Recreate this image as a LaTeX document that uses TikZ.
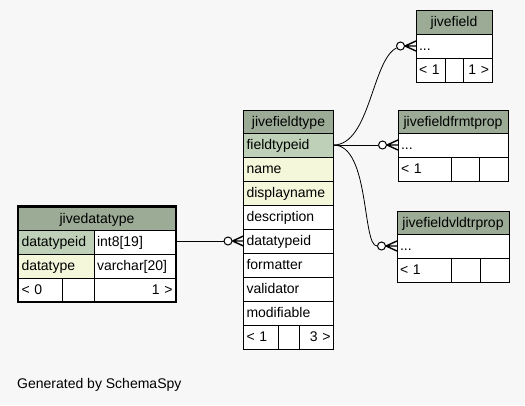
\documentclass[tikz,border=0pt]{standalone}
\usepackage{fontspec}
\setmainfont{Liberation Sans}
\usetikzlibrary{calc, fit, positioning}
\definecolor{bggray}{HTML}{F7F7F7}
\definecolor{headgreen}{HTML}{9BAB96}
\definecolor{keygreen}{HTML}{BED1B8}
\definecolor{idxyellow}{HTML}{F4F7DA}
\tikzset{
    cell/.style={draw, fill=white, line width=0.8pt, anchor=north west, outer sep=0pt,
        inner xsep=3pt, inner ysep=0pt, minimum height=24pt, text width=#1,
        text height=10.5pt, text depth=1.5pt, align=left, font=\fontsize{14}{16}\selectfont},
    headcell/.style={cell=#1, fill=headgreen, align=center, minimum height=23pt},
    keycell/.style={cell=#1, fill=keygreen},
    idxcell/.style={cell=#1, fill=idxyellow},
    odot/.style={draw, fill=white, circle, line width=1pt, minimum size=8pt, inner sep=0pt},
    link/.style={line width=0.8pt}
}
\newcommand{\crowfoot}[2]{%
    \draw[line width=1.4pt] (#1.east) -- ($(#2.west)+(0,-5)$)
        (#1.east) -- (#2.west) (#1.east) -- ($(#2.west)+(0,5)$);}

\begin{document}
\begin{tikzpicture}[x=1pt, y=-1pt]

\path[use as bounding box, fill=bggray] (0,0) rectangle (525,405);

% jivedatatype
\node[headcell=151pt] (dt-head) at (18.5,207) {jivedatatype};
\node[keycell=69.5pt] (dt-id) at (dt-head.south west) {datatypeid};
\node[cell=75.5pt] (dt-idtype) at (dt-id.north east) {int8[19]};
\node[idxcell=69.5pt] (dt-name) at (dt-id.south west) {datatype};
\node[cell=75.5pt] (dt-nametype) at (dt-name.north east) {varchar[20]};
\node[cell=37.5pt, minimum height=23.5pt] (dt-left) at (dt-name.south west) {< 0};
\node[cell=26pt, minimum height=23.5pt] (dt-mid) at (dt-left.north east) {};
\node[cell=75.5pt, minimum height=23.5pt, align=right] (dt-right) at (dt-mid.north east) {1 >};
\node[draw, line width=2.5pt, inner sep=0.5pt, fit=(dt-head)(dt-right)] (dt-frame) {};

% jivefieldtype
\node[headcell=84pt] (ft-head) at (243.5,110) {jivefieldtype};
\node[keycell=84pt] (ft-id) at (ft-head.south west) {fieldtypeid};
\node[idxcell=84pt] (ft-name) at (ft-id.south west) {name};
\node[idxcell=84pt] (ft-disp) at (ft-name.south west) {displayname};
\node[cell=84pt] (ft-desc) at (ft-disp.south west) {description};
\node[cell=84pt] (ft-dtid) at (ft-desc.south west) {datatypeid};
\node[cell=84pt] (ft-fmt) at (ft-dtid.south west) {formatter};
\node[cell=84pt] (ft-val) at (ft-fmt.south west) {validator};
\node[cell=84pt] (ft-mod) at (ft-val.south west) {modifiable};
\node[cell=28.5pt] (ft-left) at (ft-mod.south west) {< 1};
\node[cell=15pt] (ft-mid) at (ft-left.north east) {};
\node[cell=28.5pt, align=right] (ft-right) at (ft-mid.north east) {3 >};

% jivefield
\node[headcell=70pt, minimum height=24pt] (jf-head) at (416,10) {jivefield};
\node[cell=70pt] (jf-dots) at (jf-head.south west) {...};
\node[cell=23pt] (jf-left) at (jf-dots.south west) {< 1};
\node[cell=12pt] (jf-mid) at (jf-left.north east) {};
\node[cell=23pt, align=right] (jf-right) at (jf-mid.north east) {1 >};

% jivefieldfrmtprop
\node[headcell=104pt] (fp-head) at (398,110) {jivefieldfrmtprop};
\node[cell=104pt] (fp-dots) at (fp-head.south west) {...};
\node[cell=47pt] (fp-left) at (fp-dots.south west) {< 1};
\node[cell=22pt] (fp-mid) at (fp-left.north east) {};
\node[cell=23pt] (fp-right) at (fp-mid.north east) {};

% jivefieldvldtrprop
\node[headcell=106pt] (vp-head) at (397,211) {jivefieldvldtrprop};
\node[cell=106pt] (vp-dots) at (vp-head.south west) {...};
\node[cell=48pt] (vp-left) at (vp-dots.south west) {< 1};
\node[cell=23pt] (vp-mid) at (vp-left.north east) {};
\node[cell=23pt] (vp-right) at (vp-mid.north east) {};

% relationships
\node[odot, left=11pt of jf-dots.west] (jf-o) {};
\node[odot, left=11pt of fp-dots.west] (fp-o) {};
\node[odot, left=11pt of vp-dots.west] (vp-o) {};
\node[odot, left=11pt of ft-dtid.west] (dt-o) {};

\draw[link] (ft-id.east) .. controls (370,145) and (372,60) .. (jf-o);
\draw[link] (ft-id.east) -- (fp-o);
\draw[link] (ft-id.east) .. controls (370,145) and (362,246) .. (vp-o);
\draw[link] (dt-o -| dt-idtype.east) -- (dt-o);
\crowfoot{jf-o}{jf-dots}
\crowfoot{fp-o}{fp-dots}
\crowfoot{vp-o}{vp-dots}
\crowfoot{dt-o}{ft-dtid}

\node[anchor=west, inner sep=0pt, font=\fontsize{14}{16}\selectfont] (credit) at (17,385) {Generated by SchemaSpy};

\end{tikzpicture}
\end{document}
